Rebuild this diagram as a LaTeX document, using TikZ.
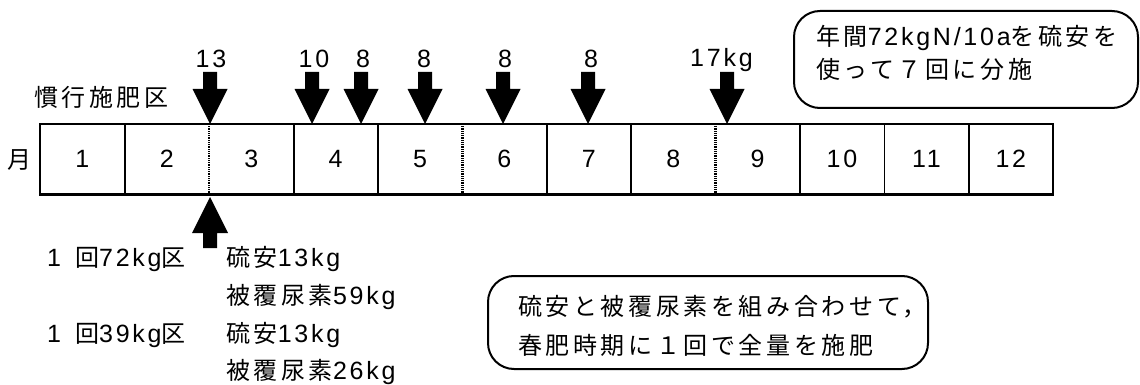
\documentclass[tikz,border=0pt]{standalone}
\usepackage{fontspec}
\setmainfont[LetterSpace=11]{Liberation Sans}
\newfontfamily\jp[LetterSpace=15,Scale=0.96]{Noto Sans CJK JP}
\newcommand\J[1]{{\jp #1}}
\newcommand\fsz{\fontsize{25}{30}\selectfont}
\begin{document}
\begin{tikzpicture}[x=1pt,y=-1pt,
  lbl/.style={inner sep=0pt, font=\fsz},
  cell/.style={inner sep=0pt, minimum width=84.4pt, minimum height=70pt, anchor=north west, font=\fsz},
  solidsep/.style={line width=1.8pt},
  dotsep/.style={line width=2.4pt, dash pattern=on 1pt off 0.8pt},
  rbox/.style={draw, line width=2pt, rounded corners=26pt, inner sep=0pt},
  darr/.pic={\fill (-7,-52) -- (7,-52) -- (7,-35) -- (17.5,-35) -- (0,0) -- (-17.5,-35) -- (-7,-35) -- cycle;},
  uarr/.pic={\fill (-7,51) -- (7,51) -- (7,36) -- (18,36) -- (0,0) -- (-18,36) -- (-7,36) -- cycle;}
]
\useasboundingbox (0,0) rectangle (1140,385);
% month cells
\foreach \i in {1,...,12}{
  \node[cell] (m\i) at ({40+84.4*(\i-1)},124) {\i};
}
\draw[line width=2.2pt] (m1.north west) rectangle (m12.south east);
\foreach \i in {1,3,4,6,7,9,10,11}{
  \draw[solidsep] (m\i.north east) -- (m\i.south east);
}
\foreach \i in {2,5,8}{
  \draw[dotsep] (m\i.north east) -- (m\i.south east);
}
\node[lbl, anchor=center] (tsuki) at (19,160) {\J{月}};
\node[lbl, anchor=base west] (kanko) at (34,107) {\J{慣行施肥区}};
% down arrows
\foreach \x/\n in {210/a1, 312/a2, 361/a3, 425/a4, 503/a5, 588/a6, 727/a7}{
  \coordinate (\n) at (\x,124);
  \pic at (\n) {darr};
}
\node[lbl, anchor=base] (l1) at (211,68) {13};
\node[lbl, anchor=base] (l2) at (314,68) {10};
\node[lbl, anchor=base] (l3) at (363,68) {8};
\node[lbl, anchor=base] (l4) at (424,68) {8};
\node[lbl, anchor=base] (l5) at (505,68) {8};
\node[lbl, anchor=base] (l6) at (591,68) {8};
\node[lbl, anchor=base west] (l7) at (690,67) {17kg};
% up arrow
\coordinate (ua) at (210,197);
\pic at (ua) {uarr};
% bottom left texts
\node[lbl, anchor=base west] (t1) at (47,266) {1\hspace{14pt}\J{回}72kg\J{区}};
\node[lbl, anchor=base west] (t2) at (226,266) {\J{硫安}13kg};
\node[lbl, anchor=base west] (t3) at (226,304) {\J{被覆尿素}59kg};
\node[lbl, anchor=base west] (t4) at (47,342) {1\hspace{14pt}\J{回}39kg\J{区}};
\node[lbl, anchor=base west] (t5) at (226,342) {\J{硫安}13kg};
\node[lbl, anchor=base west] (t6) at (226,379) {\J{被覆尿素}26kg};
% top right box
\node[rbox, minimum width=344pt, minimum height=97pt, anchor=north west] (tr) at (793,10) {};
\node[lbl, anchor=base west] (tr1) at (816,46) {\J{年間}72kgN/10a\J{を硫安を}};
\node[lbl, anchor=base west] (tr2) at (816,79) {\J{使って７回に分施}};
% bottom box
\node[rbox, minimum width=440pt, minimum height=93pt, anchor=north west] (bb) at (487,275) {};
\node[lbl, anchor=base west] (bb1) at (518,315) {\J{硫安と被覆尿素を組み合わせて，}};
\node[lbl, anchor=base west] (bb2) at (518,354) {\J{春肥時期に１回で全量を施肥}};
\end{tikzpicture}
\end{document}
